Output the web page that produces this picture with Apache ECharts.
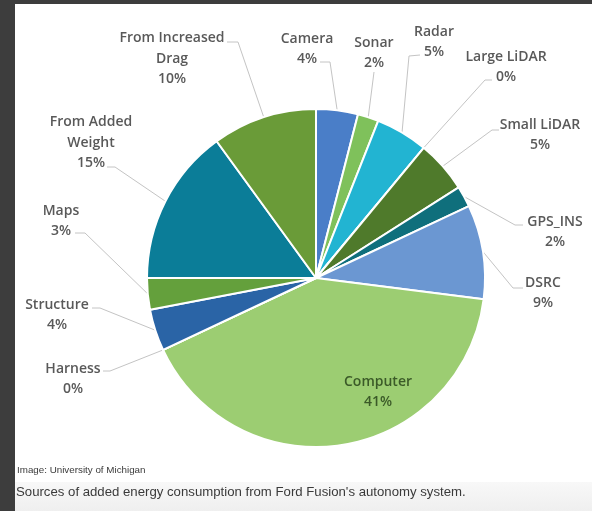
<!DOCTYPE html>
<html>
<head>
<meta charset="utf-8">
<script src="https://cdn.jsdelivr.net/npm/echarts@6/dist/echarts.min.js"></script>
<style>
  html, body { margin: 0; padding: 0; background: #3d3d3d; }
  #chart { width: 592px; height: 511px; }
</style>
</head>
<body>
<div id="chart"></div>
<script>
// Sources of added energy consumption, in percent, clockwise from 12 o'clock
const categories = [
  'Camera', 'Sonar', 'Radar', 'Large LiDAR', 'Small LiDAR', 'GPS_INS', 'DSRC',
  'Computer', 'Harness', 'Structure', 'Maps', 'From Added\nWeight', 'From Increased\nDrag'
];
const shares = [4, 2, 5, 0, 5, 2, 9, 41, 0, 4, 3, 15, 10];
const sliceColors = [
  '#4a7ec8', '#7fc15b', '#22b4d2', '#5f8f3a', '#4f7a2b', '#0f6f7c', '#6b97d2',
  '#9ccd72', '#25a0c0', '#2a64a6', '#64a03c', '#0b7d98', '#6a9b38'
];

const CX = 316, CY = 278, R = 169;

// Where each label block sits, and the elbow/end of its leader line
const labelSpots = [
  { x: 307, y: 49, line: [[330, 62], [320, 62]] },          // Camera
  { x: 374, y: 53, line: [[374, 72]] },                     // Sonar
  { x: 434, y: 42, line: [[409, 56], [420, 55]] },          // Radar
  { x: 506, y: 67, line: [[485, 80], [492, 80]] },          // Large LiDAR
  { x: 540, y: 135, line: [[492, 130], [499, 130]] },       // Small LiDAR
  { x: 555, y: 232, line: [[515, 225], [523, 225]] },       // GPS_INS
  { x: 543, y: 293, line: [[513, 288], [523, 288]] },       // DSRC
  { x: 378, y: 392, line: null },                           // Computer (inside)
  { x: 73, y: 379, line: [[110, 371], [103, 371]] },        // Harness
  { x: 57, y: 315, line: [[100, 308], [92, 308]] },         // Structure
  { x: 61, y: 221, line: [[85, 233], [75, 233]] },          // Maps
  { x: 91, y: 143, line: [[115, 167], [107, 167]] },        // From Added Weight
  { x: 172, y: 59, line: [[238, 42], [227, 42]] }           // From Increased Drag
];

const total = shares.reduce((a, b) => a + b, 0);
function midAnchor(i) {
  let before = 0;
  for (let k = 0; k < i; k++) before += shares[k];
  const a = ((before + shares[i] / 2) / total) * Math.PI * 2;
  return [CX + R * Math.sin(a), CY - R * Math.cos(a)];
}

const pieData = categories.map((name, i) => {
  const item = { name: name, value: shares[i], itemStyle: { color: sliceColors[i] } };
  if (name === 'Computer') {
    item.label = { color: '#3b5a28' };
    item.labelLine = { show: false };
  }
  return item;
});

const chart = echarts.init(document.getElementById('chart'), null, { renderer: 'canvas' });

chart.setOption({
  backgroundColor: '#3d3d3d',
  animation: false,
  graphic: [
    { type: 'rect', z: -10, shape: { x: 15, y: 4, width: 577, height: 507 }, style: { fill: '#ffffff' } },
    {
      type: 'rect', z: -9, shape: { x: 15, y: 482, width: 577, height: 29 },
      style: {
        fill: new echarts.graphic.LinearGradient(0, 0, 0, 1, [
          { offset: 0, color: '#f8f8f8' }, { offset: 1, color: '#efefef' }
        ])
      }
    },
    {
      type: 'text', left: 17, top: 465,
      style: { text: 'Image: University of Michigan', font: '9.8px "Liberation Sans", Arial, sans-serif', fill: '#3a3a3a' }
    },
    {
      type: 'text', left: 16, top: 486,
      style: { text: "Sources of added energy consumption from Ford Fusion's autonomy system.", font: '13.2px "Liberation Sans", Arial, sans-serif', fill: '#3a3a3a' }
    }
  ],
  series: [{
    type: 'pie',
    center: [CX, CY],
    radius: R,
    startAngle: 90,
    clockwise: true,
    avoidLabelOverlap: false,
    emphasis: { disabled: true },
    itemStyle: { borderColor: '#ffffff', borderWidth: 2 },
    label: {
      show: true,
      position: 'outside',
      formatter: p => p.name + '\n' + p.value + '%',
      fontFamily: '"Open Sans", Lato, sans-serif',
      fontSize: 14,
      fontWeight: 600,
      lineHeight: 20.5,
      color: '#595959'
    },
    labelLine: { show: true, lineStyle: { color: '#c4c4c4', width: 1 } },
    labelLayout: params => {
      const i = params.dataIndex;
      const spot = labelSpots[i];
      const out = { x: spot.x, y: spot.y, align: 'center', verticalAlign: 'middle' };
      if (spot.line) {
        const anchor = (params.labelLinePoints && params.labelLinePoints[0]) || midAnchor(i);
        out.labelLinePoints = [anchor].concat(spot.line);
      }
      return out;
    },
    data: pieData
  }]
});
</script>
</body>
</html>
